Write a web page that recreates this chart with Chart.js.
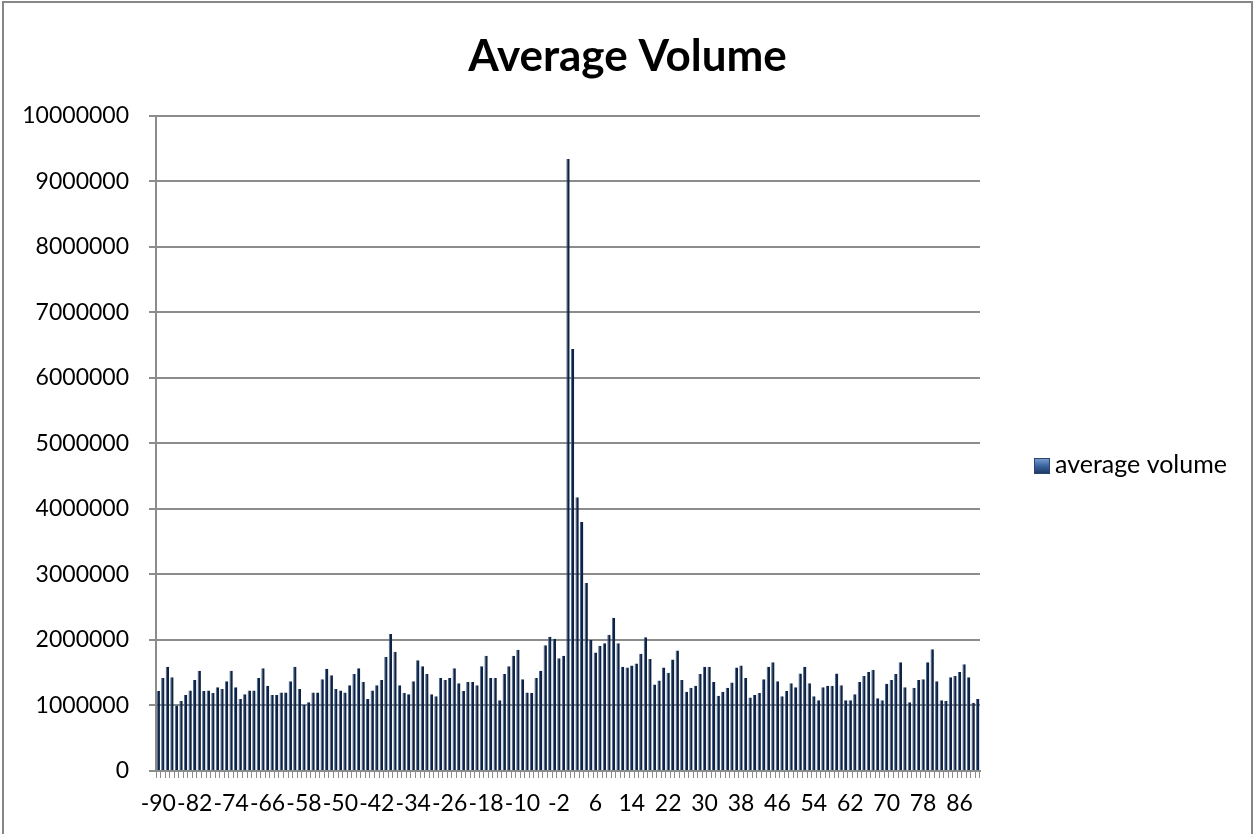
<!DOCTYPE html>
<html>
<head>
<meta charset="utf-8">
<title>Average Volume</title>
<script src="https://cdn.jsdelivr.net/npm/chart.js@4.4.1/dist/chart.umd.min.js"></script>
<style>
  html, body { margin: 0; padding: 0; background: #ffffff; }
  #chart { display: block; }
</style>
</head>
<body>
<canvas id="chart" width="1255" height="834"></canvas>
<script>
// Event window: days -90 .. 90 around the event (day 0)
const days = Array.from({ length: 181 }, (_, i) => i - 90);

// Average traded volume per day
const averageVolume = [
  // -90 .. -61
  1220000, 1420000, 1590000, 1430000, 1000000, 1070000, 1160000, 1230000, 1390000, 1530000,
  1220000, 1230000, 1190000, 1280000, 1250000, 1370000, 1530000, 1280000, 1100000, 1170000,
  1230000, 1230000, 1420000, 1570000, 1300000, 1160000, 1160000, 1200000, 1200000, 1370000,
  // -60 .. -32
  1590000, 1250000, 1010000, 1050000, 1200000, 1200000, 1400000, 1560000, 1460000, 1250000,
  1230000, 1200000, 1310000, 1480000, 1570000, 1360000, 1100000, 1230000, 1310000, 1390000,
  1740000, 2090000, 1820000, 1310000, 1190000, 1170000, 1370000, 1690000, 1600000,
  // -31 .. -1
  1480000, 1170000, 1140000, 1420000, 1390000, 1420000, 1570000, 1340000, 1220000, 1360000,
  1360000, 1310000, 1600000, 1760000, 1420000, 1420000, 1080000, 1480000, 1600000, 1760000,
  1850000, 1400000, 1200000, 1190000, 1420000, 1530000, 1920000, 2050000, 2020000, 1720000,
  1760000,
  // 0 .. 11
  9340000, 6440000, 4180000, 3800000, 2870000, 2000000, 1810000, 1910000, 1950000, 2080000,
  2340000, 1950000,
  // 12 .. 42
  1590000, 1580000, 1610000, 1640000, 1790000, 2040000, 1710000, 1320000, 1380000, 1580000,
  1500000, 1700000, 1840000, 1390000, 1210000, 1270000, 1300000, 1480000, 1590000, 1590000,
  1360000, 1150000, 1210000, 1270000, 1350000, 1580000, 1610000, 1420000, 1120000, 1160000,
  1190000,
  // 43 .. 71
  1400000, 1590000, 1660000, 1370000, 1140000, 1220000, 1340000, 1280000, 1490000, 1590000,
  1340000, 1140000, 1080000, 1280000, 1300000, 1300000, 1490000, 1310000, 1080000, 1080000,
  1170000, 1360000, 1450000, 1510000, 1540000, 1110000, 1080000, 1330000, 1390000,
  // 72 .. 90
  1480000, 1660000, 1280000, 1050000, 1270000, 1390000, 1400000, 1660000, 1860000, 1370000,
  1080000, 1070000, 1430000, 1450000, 1510000, 1630000, 1430000, 1040000, 1100000
];

// Category labels printed under the axis
const xTickLabels = [-90, -82, -74, -66, -58, -50, -42, -34, -26, -18, -10, -2,
                     6, 14, 22, 30, 38, 46, 54, 62, 70, 78, 86];

// Value axis range and step
const yMin = 0;
const yMax = 10000000;
const yStep = 1000000;

const seriesName = 'average volume';
const chartTitle = 'Average Volume';

const GRID = '#8c8c8c';
const FONT = 'Lato, "Open Sans", sans-serif';

Chart.defaults.font.family = FONT;
Chart.defaults.color = '#000000';

// White page, outer frame and right-hand legend
const framePlugin = {
  id: 'frame',
  beforeDraw(chart) {
    const ctx = chart.ctx;
    ctx.save();
    ctx.fillStyle = '#ffffff';
    ctx.fillRect(0, 0, chart.width, chart.height);
    ctx.restore();
  },
  afterDraw(chart) {
    const ctx = chart.ctx;
    ctx.save();
    ctx.strokeStyle = '#868686';
    ctx.lineWidth = 2;
    ctx.strokeRect(3, 2, chart.width - 6, chart.height + 20);

    // legend entry
    const ds = chart.data.datasets[0];
    const bx = 1034, by = 458, bs = 16;
    const g = ctx.createLinearGradient(0, by, 0, by + bs);
    g.addColorStop(0, '#7ea3d6');
    g.addColorStop(0.5, '#3a64a0');
    g.addColorStop(1, '#1b3560');
    ctx.fillStyle = g;
    ctx.fillRect(bx, by, bs, bs);
    ctx.strokeStyle = '#2a4670';
    ctx.lineWidth = 1;
    ctx.strokeRect(bx + 0.5, by + 0.5, bs - 1, bs - 1);
    ctx.fillStyle = '#000000';
    ctx.font = '25px ' + FONT;
    ctx.textAlign = 'left';
    ctx.textBaseline = 'alphabetic';
    ctx.fillText(ds.label, 1055, 473);
    ctx.restore();
  }
};

new Chart(document.getElementById('chart'), {
  type: 'bar',
  data: {
    labels: days,
    datasets: [{
      label: seriesName,
      data: averageVolume,
      backgroundColor: '#10223f',
      borderColor: '#456b9f',
      borderWidth: { left: 1, right: 0, top: 0, bottom: 0 },
      borderSkipped: false,
      barPercentage: 0.74,
      categoryPercentage: 1.0
    }]
  },
  options: {
    responsive: false,
    animation: false,
    devicePixelRatio: 1,
    layout: { padding: { top: 10, right: 0, bottom: 0, left: 0 } },
    plugins: {
      legend: { display: false },
      tooltip: { enabled: false },
      title: {
        display: true,
        text: chartTitle,
        color: '#000000',
        font: { family: FONT, size: 44, weight: 'bold' },
        padding: { top: 20, bottom: 33 }
      }
    },
    scales: {
      x: {
        grid: {
          display: true,
          drawOnChartArea: false,
          drawTicks: true,
          tickLength: 7,
          color: GRID,
          lineWidth: 1,
          offset: true
        },
        border: { display: true, color: GRID, width: 2 },
        ticks: {
          autoSkip: false,
          maxRotation: 0,
          minRotation: 0,
          padding: 12,
          color: '#000000',
          font: { family: FONT, size: 23 },
          callback(value, index) {
            const d = days[index];
            return xTickLabels.includes(d) ? String(d) : '';
          }
        },
        afterFit(scale) { scale.height = 63; }
      },
      y: {
        min: yMin,
        max: yMax,
        grid: {
          color: GRID,
          lineWidth: 2,
          drawTicks: true,
          tickLength: 7
        },
        border: { display: true, color: GRID, width: 2 },
        ticks: {
          stepSize: yStep,
          padding: 20,
          color: '#000000',
          font: { family: FONT, size: 23 },
          callback(value) { return String(value); }
        },
        afterFit(scale) { scale.width = 156; }
      },
      // empty column on the right that holds the legend
      legendSpace: {
        type: 'linear',
        position: 'right',
        display: true,
        grid: { display: false, drawTicks: false },
        border: { display: false },
        ticks: { display: false },
        afterFit(scale) { scale.width = 275; }
      }
    }
  },
  plugins: [framePlugin]
});
</script>
</body>
</html>
